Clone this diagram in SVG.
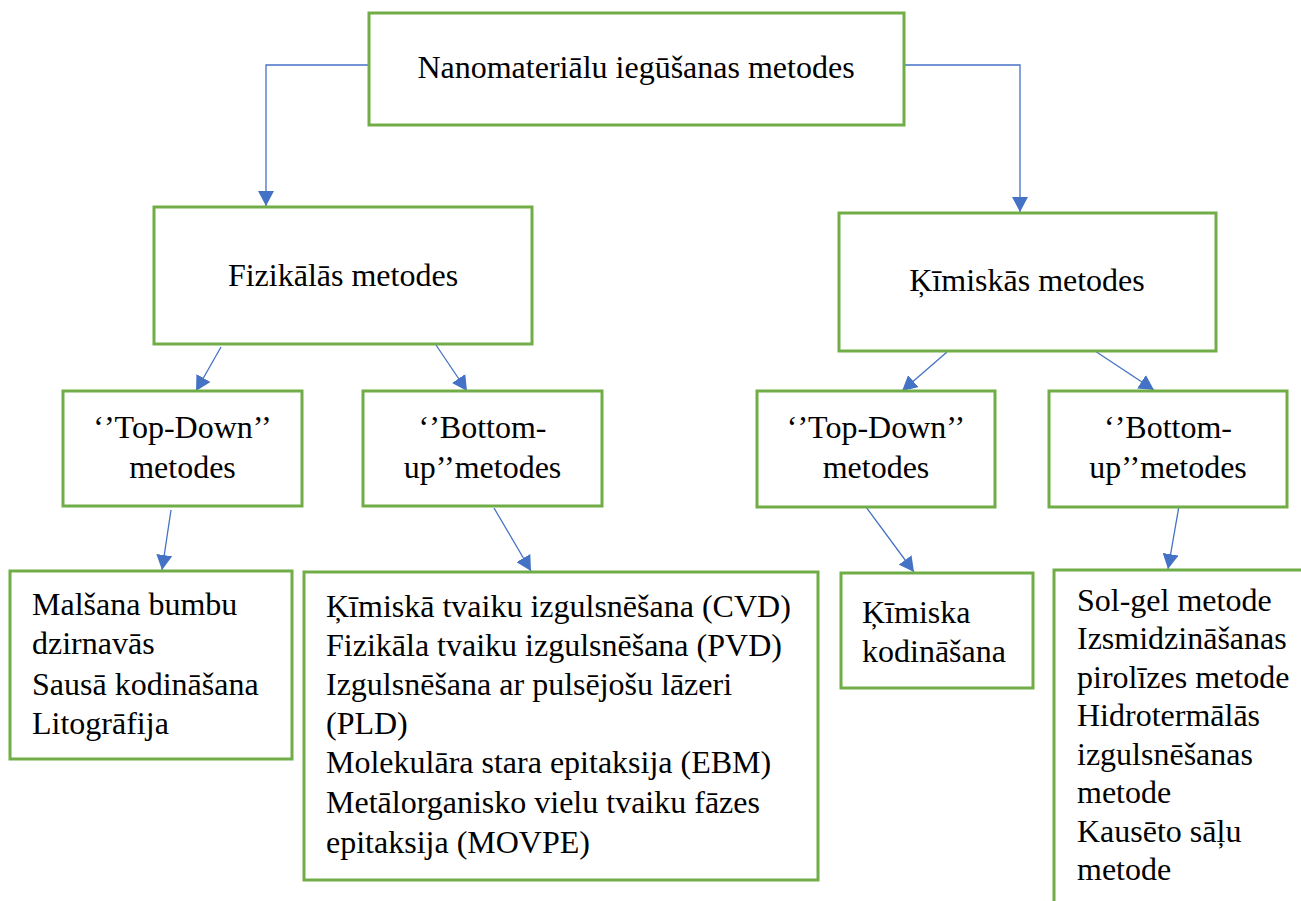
<svg xmlns="http://www.w3.org/2000/svg" width="1301" height="901" viewBox="0 0 1301 901">
<style>
.box{fill:#fff;stroke:#70AD47;stroke-width:3}
.t{font-family:"Liberation Serif","Times New Roman",Times,serif;font-size:32px;fill:#000}
.c{text-anchor:middle}
.conn{fill:none;stroke:#4472C4;stroke-width:1.3}
</style>
<defs>
<marker id="arr" markerUnits="userSpaceOnUse" markerWidth="15" markerHeight="16" refX="15" refY="8" orient="auto">
<path d="M0,0 L15,8 L0,16 z" fill="#4472C4"/>
</marker>
</defs>
<rect width="1301" height="901" fill="#fff"/>
<g id="connectors">
<path class="conn" d="M369,65 H266 V206" marker-end="url(#arr)"/>
<path class="conn" d="M904,65 H1020 V212" marker-end="url(#arr)"/>
<path class="conn" d="M221,347 L196,391" marker-end="url(#arr)"/>
<path class="conn" d="M436,345 L467,391" marker-end="url(#arr)"/>
<path class="conn" d="M947,352 L902,391" marker-end="url(#arr)"/>
<path class="conn" d="M1095,351 L1154,390" marker-end="url(#arr)"/>
<path class="conn" d="M171,510 L162,570" marker-end="url(#arr)"/>
<path class="conn" d="M494,508 L531,571" marker-end="url(#arr)"/>
<path class="conn" d="M866,507 L914,572" marker-end="url(#arr)"/>
<path class="conn" d="M1179,506 L1168,569" marker-end="url(#arr)"/>
</g>
<g id="root">
<rect class="box" x="369" y="13" width="535" height="112"/>
<text class="t c" x="636" y="78">Nanomateriālu iegūšanas metodes</text>
</g>
<g id="fizikalas">
<rect class="box" x="154" y="207" width="378" height="137"/>
<text class="t c" x="343" y="286">Fizikālās metodes</text>
</g>
<g id="kimiskas">
<rect class="box" x="839" y="213" width="377" height="138"/>
<text class="t c" x="1027" y="291">Ķīmiskās metodes</text>
</g>
<g id="fiz-topdown">
<rect class="box" x="63" y="391" width="239" height="115"/>
<text class="t c" x="182.5" y="438">‘’Top-Down’’</text>
<text class="t c" x="182.5" y="478">metodes</text>
</g>
<g id="fiz-bottomup">
<rect class="box" x="363" y="391" width="239" height="115"/>
<text class="t c" x="482.5" y="438">‘’Bottom-</text>
<text class="t c" x="482.5" y="478">up’’metodes</text>
</g>
<g id="kim-topdown">
<rect class="box" x="757" y="391" width="238" height="116"/>
<text class="t c" x="876" y="438">‘’Top-Down’’</text>
<text class="t c" x="876" y="478">metodes</text>
</g>
<g id="kim-bottomup">
<rect class="box" x="1049" y="391" width="238" height="116"/>
<text class="t c" x="1168" y="438">‘’Bottom-</text>
<text class="t c" x="1168" y="478">up’’metodes</text>
</g>
<g id="fiz-td-list">
<rect class="box" x="10" y="571" width="282" height="188"/>
<text class="t" x="32" y="615">Malšana bumbu</text>
<text class="t" x="32" y="654">dzirnavās</text>
<text class="t" x="32" y="695">Sausā kodināšana</text>
<text class="t" x="32" y="734">Litogrāfija</text>
</g>
<g id="fiz-bu-list">
<rect class="box" x="304" y="572" width="514" height="308"/>
<text class="t" x="326" y="617">Ķīmiskā tvaiku izgulsnēšana (CVD)</text>
<text class="t" x="326" y="656">Fizikāla tvaiku izgulsnēšana (PVD)</text>
<text class="t" x="326" y="695">Izgulsnēšana ar pulsējošu lāzeri</text>
<text class="t" x="326" y="734">(PLD)</text>
<text class="t" x="326" y="773">Molekulāra stara epitaksija (EBM)</text>
<text class="t" x="326" y="813">Metālorganisko vielu tvaiku fāzes</text>
<text class="t" x="326" y="853">epitaksija (MOVPE)</text>
</g>
<g id="kim-td-list">
<rect class="box" x="841" y="573" width="192" height="115"/>
<text class="t" x="862" y="623">Ķīmiska</text>
<text class="t" x="862" y="662">kodināšana</text>
</g>
<g id="kim-bu-list">
<rect class="box" x="1054" y="570" width="300" height="400"/>
<text class="t" x="1077" y="611">Sol-gel metode</text>
<text class="t" x="1077" y="649">Izsmidzināšanas</text>
<text class="t" x="1077" y="688">pirolīzes metode</text>
<text class="t" x="1077" y="726">Hidrotermālās</text>
<text class="t" x="1077" y="765">izgulsnēšanas</text>
<text class="t" x="1077" y="803">metode</text>
<text class="t" x="1077" y="842">Kausēto sāļu</text>
<text class="t" x="1077" y="880">metode</text>
</g>
</svg>
